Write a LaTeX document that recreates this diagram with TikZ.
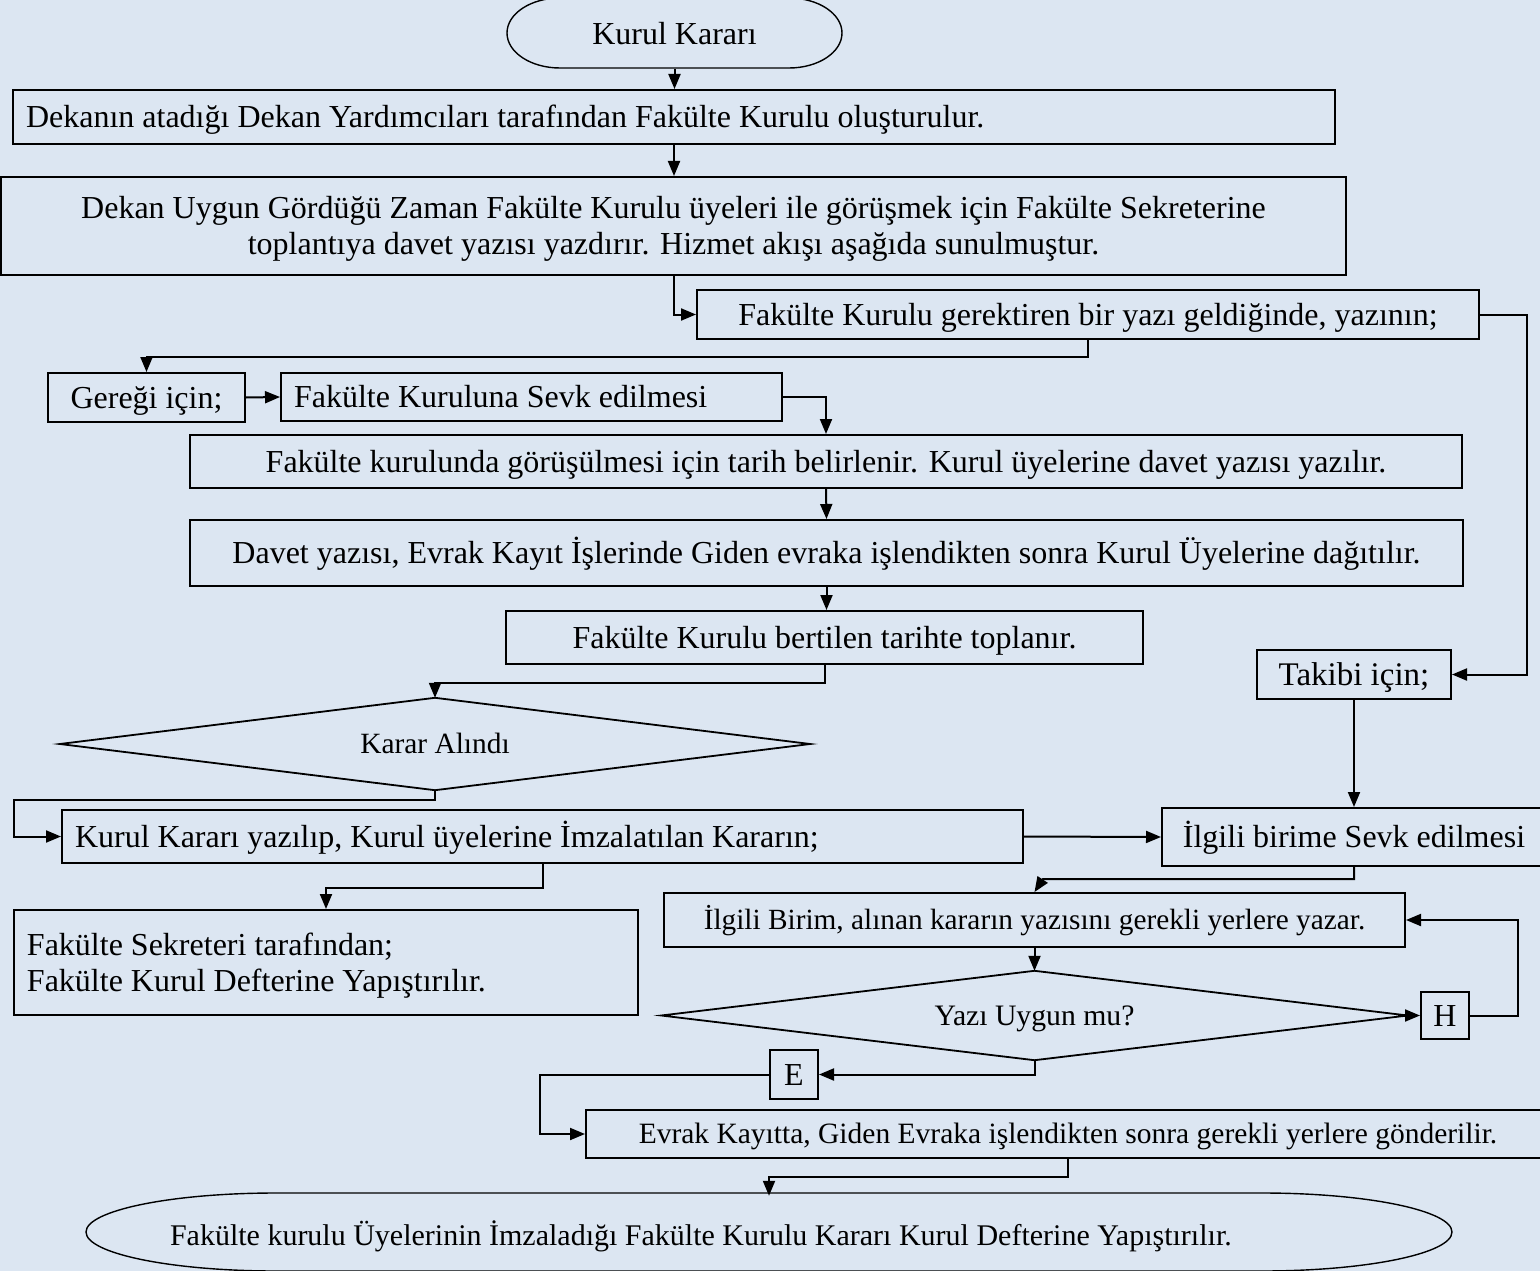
\documentclass[tikz,border=0pt]{standalone}
\usepackage{fontspec}
\setmainfont{Liberation Serif}
\usetikzlibrary{arrows.meta}
\definecolor{bgc}{HTML}{DCE6F2}
\newcommand\myfs{\fontsize{32}{36}\selectfont}
\newcommand\fsz[1]{\fontsize{#1}{36}\selectfont}
\tikzset{
  box/.style={draw, line width=2pt, inner sep=0pt, font=\myfs, text height=21pt, text depth=0pt},
  lbox/.style={box, align=flush left, inner xsep=13pt},
  tbox/.style={inner sep=0pt, font=\myfs, text height=21pt, text depth=0pt},
  dline/.style={line width=1.8pt, line join=miter},
  arr/.style={line width=2pt, -{Triangle[length=15pt,width=12pt]}},
  term/.style={line width=1.4pt}
}
\begin{document}
\begin{tikzpicture}[x=1pt,y=-1pt]
\useasboundingbox (0,0) rectangle (1540,1271);
\fill[bgc] (0,0) rectangle (1540,1271);

% start terminator
\node[tbox, minimum width=335pt, minimum height=70pt] (t1) at (674.5,34) {Kurul Kararı};
\draw[term] (560,-2) -- (789,-2) .. controls (818.3,-2) and (842,13.7) .. (842,33)
  .. controls (842,52.3) and (818.3,68) .. (789,68) -- (560,68)
  .. controls (530.7,68) and (507,52.3) .. (507,33)
  .. controls (507,13.7) and (530.7,-2) .. (560,-2) -- cycle;

\node[lbox, minimum width=1322pt, minimum height=54pt, text width=1296pt] (b2) at (674,117)
  {Dekanın atadığı Dekan Yardımcıları tarafından Fakülte Kurulu oluşturulur.};
\node[box, align=center, text height=57pt, minimum width=1345pt, minimum height=98pt] (b3) at (673.5,226)
  {Dekan Uygun Gördüğü Zaman Fakülte Kurulu üyeleri ile görüşmek için Fakülte Sekreterine\\toplantıya davet yazısı yazdırır. Hizmet akışı aşağıda sunulmuştur.};
\node[box, minimum width=782pt, minimum height=49pt] (b4) at (1088,314.5)
  {Fakülte Kurulu gerektiren bir yazı geldiğinde, yazının;};
\node[box, minimum width=197pt, minimum height=49pt] (ger) at (146.5,397.5) {Gereği için;};
\node[lbox, minimum width=501pt, minimum height=48pt, text width=475pt] (kur) at (531.5,397)
  {Fakülte Kuruluna Sevk edilmesi};
\node[box, minimum width=1272pt, minimum height=53pt] (b5) at (826,461.5)
  {Fakülte kurulunda görüşülmesi için tarih belirlenir. Kurul üyelerine davet yazısı yazılır.};
\node[box, minimum width=1273pt, minimum height=66pt] (b6) at (826.5,553)
  {Davet yazısı, Evrak Kayıt İşlerinde Giden evraka işlendikten sonra Kurul Üyelerine dağıtılır.};
\node[box, minimum width=637pt, minimum height=53pt] (b7) at (824.5,637.5)
  {Fakülte Kurulu bertilen tarihte toplanır.};
\node[box, font=\fsz{33}, text height=21.5pt, minimum width=194pt, minimum height=49pt] (tak) at (1354,674.5) {Takibi için;};

\node[tbox, font=\fsz{29.4}, text height=19.5pt, minimum width=750pt, minimum height=92pt] (d1) at (435,744) {Karar Alındı};
\draw[dline] (d1.north) -- (d1.east) -- (d1.south) -- (d1.west) -- cycle;

\node[lbox, minimum width=961pt, minimum height=53pt, text width=935pt] (b8) at (542.5,836.5)
  {Kurul Kararı yazılıp, Kurul üyelerine İmzalatılan Kararın;};
\node[box, minimum width=384pt, minimum height=58pt] (ib) at (1354,837) {İlgili birime Sevk edilmesi};
\node[lbox, text depth=36pt, minimum width=624pt, minimum height=105pt, text width=598pt] (sek) at (326,962.5)
  {Fakülte Sekreteri tarafından;\\Fakülte Kurul Defterine Yapıştırılır.};
\node[box, font=\fsz{29.3}, text height=19.5pt, minimum width=741pt, minimum height=54pt] (bi) at (1034.5,920)
  {İlgili Birim, alınan kararın yazısını gerekli yerlere yazar.};

\node[tbox, font=\fsz{29.7}, text height=19.5pt, minimum width=746pt, minimum height=89pt] (d2) at (1034.5,1015.5) {Yazı Uygun mu?};
\draw[dline] (d2.north) -- (d2.east) -- (d2.south) -- (d2.west) -- cycle;

\node[box, minimum width=48pt, minimum height=47pt] (h) at (1445,1015.5) {H};
\node[box, minimum width=48pt, minimum height=49pt] (e) at (794,1074.5) {E};
\node[box, font=\fsz{29.5}, text height=19.5pt, minimum width=964pt, minimum height=48pt] (ev) at (1068,1134)
  {Evrak Kayıtta, Giden Evraka işlendikten sonra gerekli yerlere gönderilir.};

% end terminator
\node[tbox, font=\fsz{30}, text height=20pt, align=flush left, inner xsep=84pt, minimum width=1366pt, minimum height=78pt, text width=1198pt] (t2) at (769,1235)
  {Fakülte kurulu Üyelerinin İmzaladığı Fakülte Kurulu Kararı Kurul Defterine Yapıştırılır.};
\draw[term] (276,1193) -- (1262,1193) .. controls (1366.9,1193) and (1452,1210.5) .. (1452,1232)
  .. controls (1452,1253.5) and (1366.9,1271) .. (1262,1271) -- (276,1271)
  .. controls (171.1,1271) and (86,1253.5) .. (86,1232)
  .. controls (86,1210.5) and (171.1,1193) .. (276,1193) -- cycle;

% connectors
\draw[arr] (t1.south) -- (t1.south |- b2.north);
\draw[arr] (b2.south) -- (b2.south |- b3.north);
\draw[arr] (b3.south) |- (b4.west);
\draw[arr] (b4.south) -- ++(0,17) -| (ger.north);
\draw[arr] (b4.east) -- ++(47,0) |- (tak.east);
\draw[arr] (ger.east) -- (kur.west);
\draw[arr] (kur.east) -| (b5.north);
\draw[arr] (b5.south) -- (b6.north);
\draw[arr] (b6.south) -- (b6.south |- b7.north);
\draw[arr] (b7.south) -- ++(0,18) -| (d1.north);
\draw[arr] (d1.south) -- ++(0,10) -| (14,818) |- (b8.west);
\draw[arr] (b8.east) -- (ib.west);
\draw[arr] (tak.south) -- (tak.south |- ib.north);
\draw[arr] (b8.south) -- ++(0,24) -| (sek.north);
\draw[arr] (ib.south) -- ++(0,12) -- (1043,879) -- (bi.north);
\draw[arr] (bi.south) -- (d2.north);
\draw[arr] (d2.east) -- (h.west);
\draw[arr] (h.east) -- ++(48,0) |- (bi.east);
\draw[arr] (d2.south) |- (e.east);
\draw[arr] (e.west) -- (540,1074.5) |- (ev.west);
\draw[arr] (ev.south) -- ++(0,18) -| (t2.north);
\end{tikzpicture}
\end{document}
